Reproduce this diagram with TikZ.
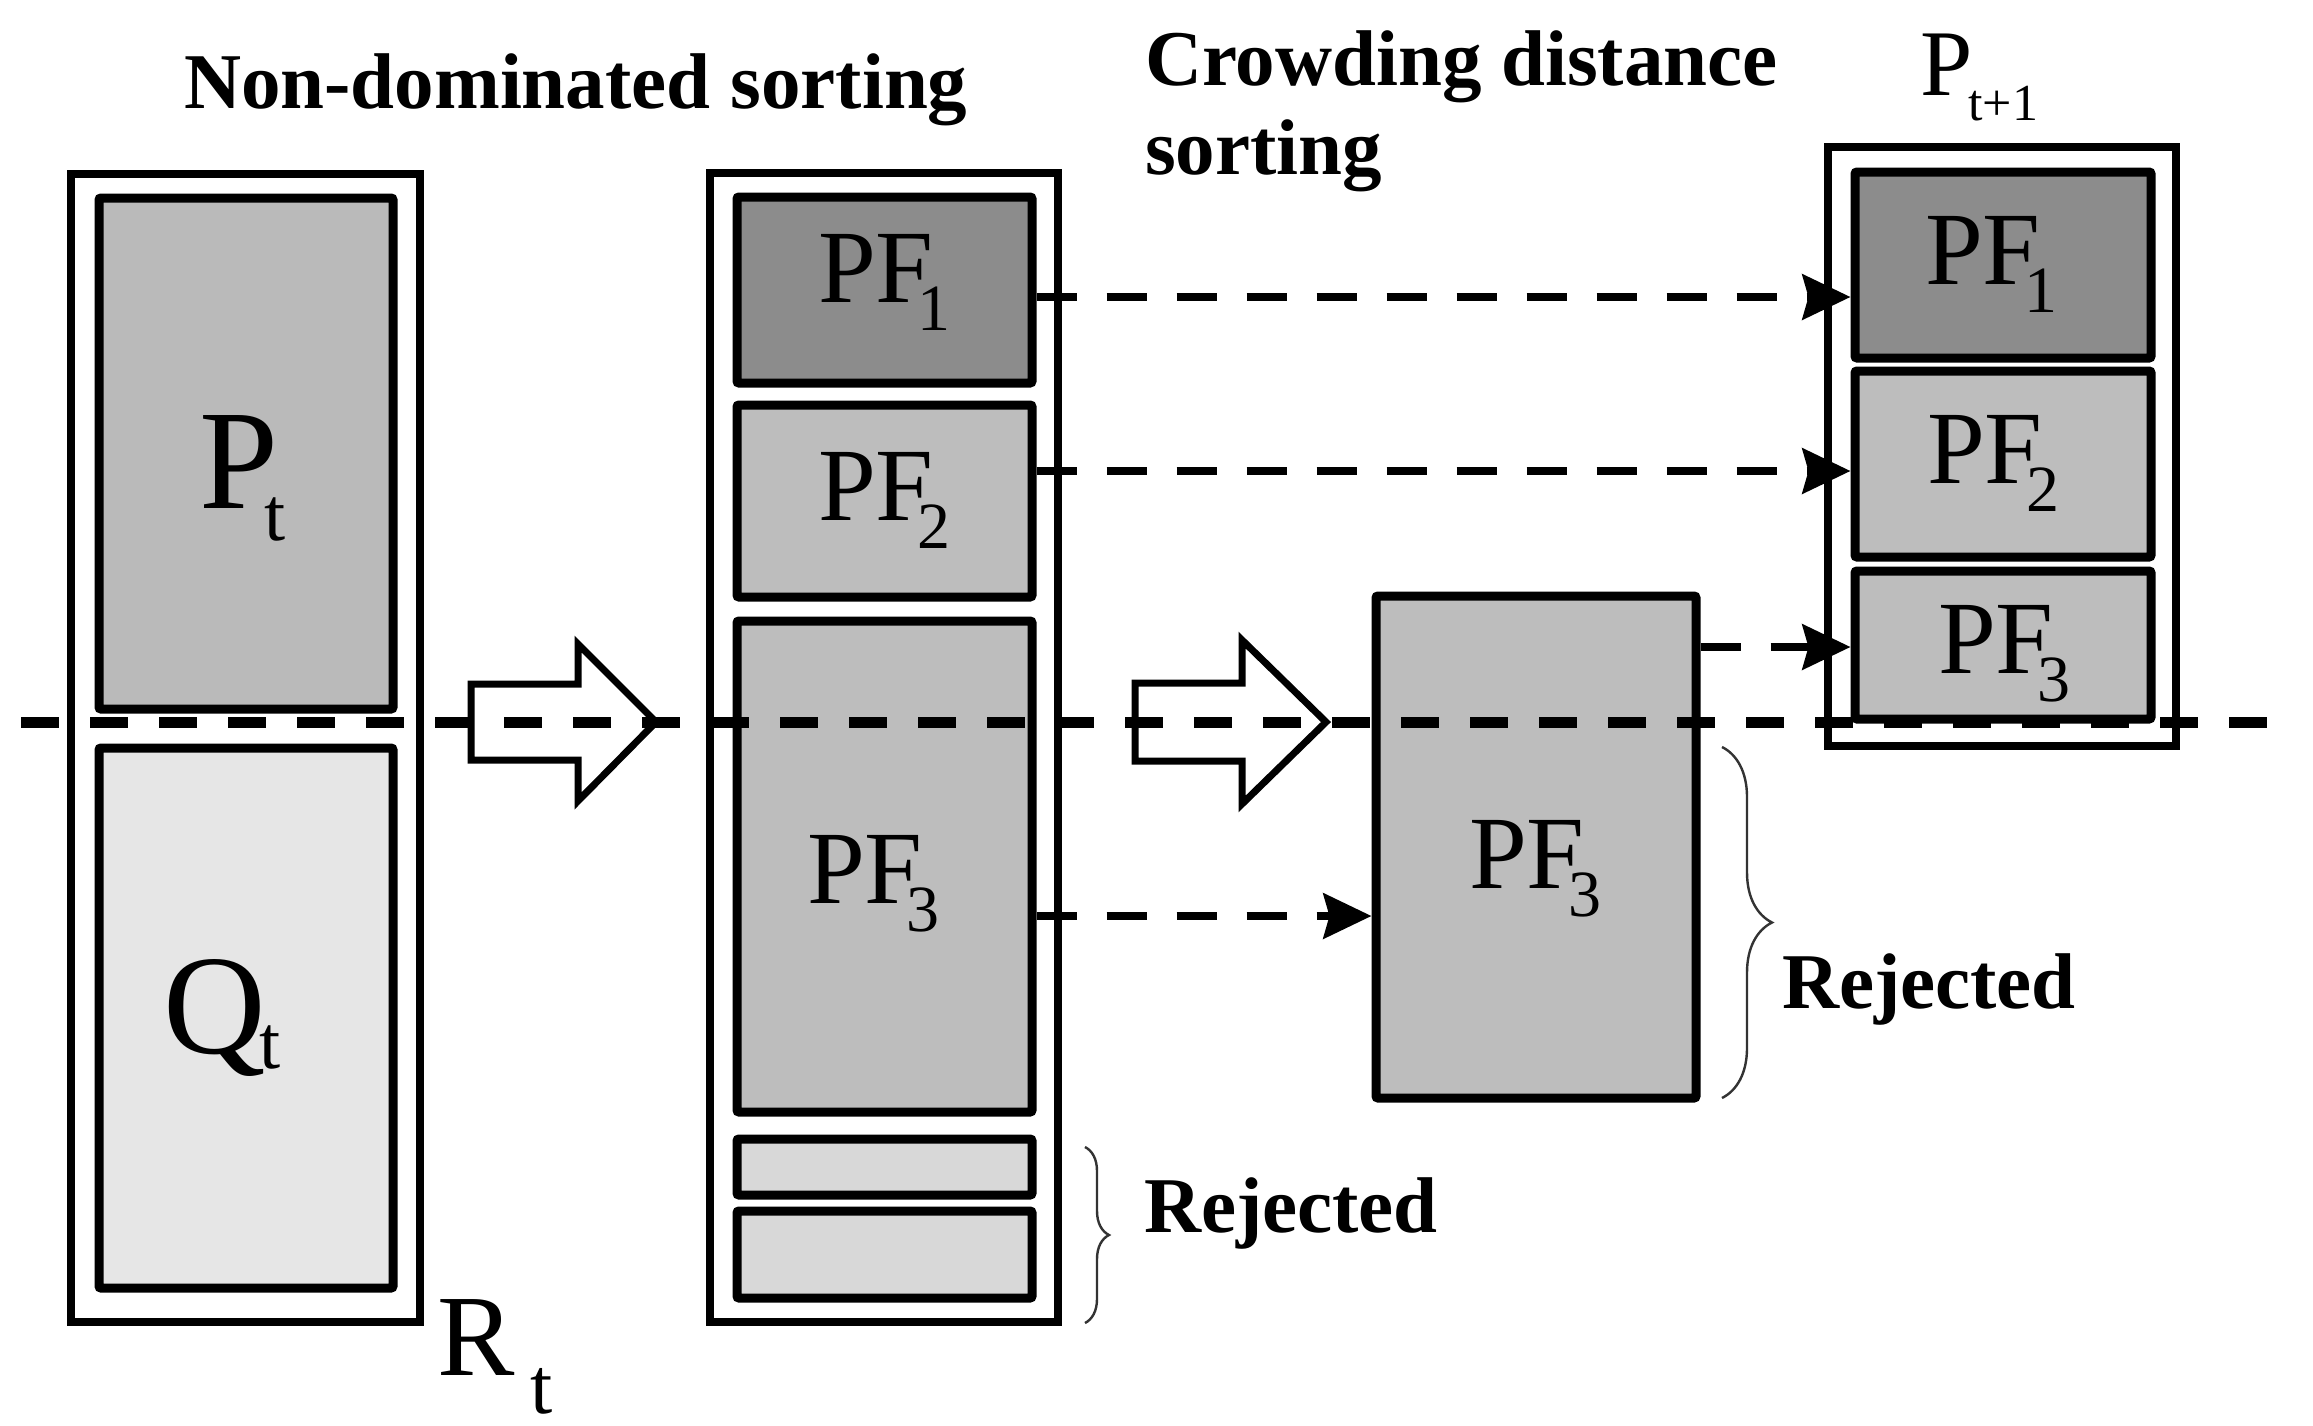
\documentclass[tikz,border=0pt]{standalone}
\usepackage{fontspec}
\setmainfont{Liberation Serif}
\usetikzlibrary{fit,arrows.meta,decorations.pathreplacing}
\newcommand{\mysubl}[6]{{\fontsize{#3}{#3}\selectfont #1}\kern#6\raisebox{-#5}{\fontsize{#4}{#4}\selectfont #2}}
\newcommand{\pflab}[1]{\mysubl{PF}{#1}{52pt}{33pt}{14pt}{-8pt}}
\definecolor{gPt}{HTML}{BABABA}
\definecolor{gQt}{HTML}{E6E6E6}
\definecolor{gPFa}{HTML}{8C8C8C}
\definecolor{gPFb}{HTML}{BDBDBD}
\definecolor{gRej}{HTML}{D8D8D8}
\begin{document}
\begin{tikzpicture}[x=0.5pt,y=-0.5pt,
  outerbox/.style={draw, line width=3.75pt, inner sep=0pt, fill=white},
  innerbox/.style={draw, line width=4.5pt, inner sep=0pt, rounded corners=1pt},
  lbl/.style={anchor=base west, inner sep=0pt, outer sep=0pt},
  titletext/.style={lbl, font=\bfseries\fontsize{39.5pt}{44pt}\selectfont},
  blockarrow/.style={draw, line width=3.5pt, fill=white, line join=miter},
  dasharrow/.style={line width=4pt, dash pattern=on 20pt off 15pt, -{Stealth[length=24pt,width=22.5pt,inset=3pt]}},
  maindash/.style={line width=5.5pt, dash pattern=on 19pt off 15.5pt},
  bracestyle/.style={decorate, draw=black!80, line width=1.2pt}]
\useasboundingbox (0,0) rectangle (2313,1425);
\fill[white] (0,0) rectangle (2313,1425);

% titles
\node[titletext] (t1) at (184,108) {Non-dominated sorting};
\node[titletext] (t2a) at (1145,85) {Crowding distance};
\node[titletext] (t2b) at (1145,174) {sorting};
\node[lbl] (tP) at (1920,95) {\mysubl{P}{t+1}{47pt}{26pt}{12.5pt}{-2pt}};

% R_t column
\node[outerbox, fit={(71,174) (420,1322)}] (Rt) {};
\node[innerbox, fill=gPt, fit={(99,198) (393,709)}] (Pt) {};
\node[innerbox, fill=gQt, fit={(99,748) (393,1288)}] (Qt) {};
\node[lbl] (PtL) at (199,508) {\mysubl{P}{t}{71pt}{38pt}{16pt}{-6.5pt}};
\node[lbl] (QtL) at (163,1053) {\mysubl{Q}{t}{71pt}{38pt}{7.5pt}{-3pt}};
\node[lbl] (RtL) at (437,1375) {\mysubl{R}{t}{58pt}{40pt}{19pt}{8pt}};

% middle column
\node[outerbox, fit={(710,173) (1058,1322)}] (Mid) {};
\node[innerbox, fill=gPFa, fit={(737,197) (1032,383)}] (PFam) {};
\node[innerbox, fill=gPFb, fit={(737,405) (1032,597)}] (PFbm) {};
\node[innerbox, fill=gPFb, fit={(737,621) (1032,1112)}] (PFcm) {};
\node[innerbox, fill=gRej, fit={(737,1139) (1032,1195)}] (Rja) {};
\node[innerbox, fill=gRej, fit={(737,1211) (1032,1298)}] (Rjb) {};
\node[lbl] (PFamL) at (818,302) {\pflab{1}};
\node[lbl] (PFbmL) at (818,520) {\pflab{2}};
\node[lbl] (PFcmL) at (807,903) {\pflab{3}};

% crowding box
\node[innerbox, fill=gPFb, fit={(1376,596) (1696,1098)}] (Crowd) {};
\node[lbl] (CrowdL) at (1469,888) {\pflab{3}};

% P_{t+1} column
\node[outerbox, fit={(1828,147) (2176,746)}] (Next) {};
\node[innerbox, fill=gPFa, fit={(1855,172) (2151,358)}] (PFar) {};
\node[innerbox, fill=gPFb, fit={(1855,371) (2151,557)}] (PFbr) {};
\node[innerbox, fill=gPFb, fit={(1855,571) (2151,719)}] (PFcr) {};
\node[lbl] (PFarL) at (1925,284) {\pflab{1}};
\node[lbl] (PFbrL) at (1927,483) {\pflab{2}};
\node[lbl] (PFcrL) at (1938,673) {\pflab{3}};

% block arrows
\draw[blockarrow] (471,684) -- (578,684) -- (578,644) -- (656,722) -- (578,801) -- (578,760) -- (471,760) -- cycle;
\draw[blockarrow] (1135,683) -- (1242,683) -- (1242,640) -- (1326,722) -- (1242,804) -- (1242,761) -- (1135,761) -- cycle;

% dashed arrows
\draw[dasharrow] ([yshift=-3.5pt]PFam.east) -- ([yshift=-3.5pt]PFam.east -| PFar.west);
\draw[dasharrow] ([yshift=15pt]PFbm.east) -- ([yshift=15pt]PFbm.east -| PFbr.west);
\draw[dasharrow] ([yshift=-24.75pt]PFcm.east) -- ([yshift=-24.75pt]PFcm.east -| Crowd.west);
\draw[dasharrow] ([yshift=100pt]Crowd.east) -- ([yshift=100pt]Crowd.east -| PFcr.west);

% braces and rejected labels
\coordinate (b1a) at (1085,1147);
\coordinate (b1b) at (1085,1323);
\coordinate (b2a) at (1722,747);
\coordinate (b2b) at (1722,1098);
\draw[bracestyle, decoration={brace, amplitude=12pt}] (b1a) -- (b1b);
\draw[bracestyle, decoration={brace, amplitude=25pt}] (b2a) -- (b2b);
\node[titletext] (rej1) at (1144,1232) {Rejected};
\node[titletext] (rej2) at (1782,1008) {Rejected};

% main dashed line
\coordinate (lineL) at (21,722);
\coordinate (lineR) at (2294,722);
\draw[maindash] (lineL) -- (lineR);
\end{tikzpicture}
\end{document}
